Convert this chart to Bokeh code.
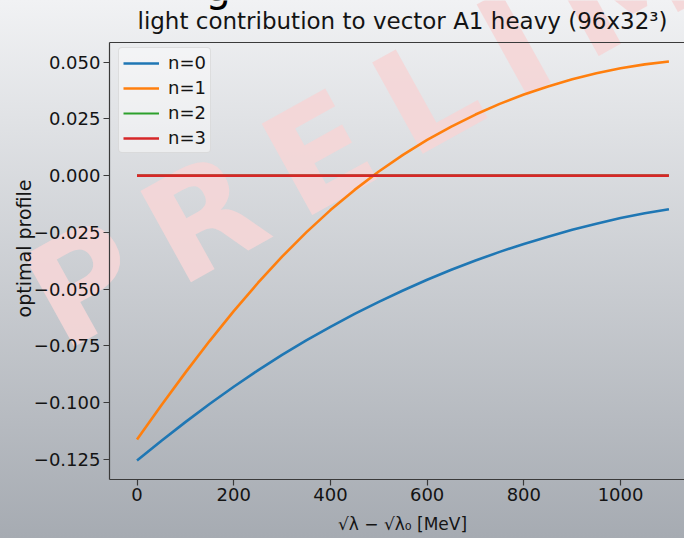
from math import radians

from bokeh.embed import file_html
from bokeh.models import (FixedTicker, Label, Legend, LegendItem, LinearAxis,
                          Range1d)
from bokeh.plotting import figure
from bokeh.resources import INLINE

# --- data -------------------------------------------------------------------
energy_mev = [0, 50, 100, 150, 200, 250, 300, 350, 400, 450, 500, 550,
              600, 650, 700, 750, 800, 850, 900, 950, 1000, 1050, 1100]

profile_n0 = [-0.1255, -0.1169, -0.1086, -0.1006, -0.0930, -0.0858, -0.0790,
              -0.0726, -0.0666, -0.0609, -0.0556, -0.0506, -0.0459, -0.0415,
              -0.0374, -0.0336, -0.0301, -0.0269, -0.0239, -0.0212, -0.0187,
              -0.0166, -0.0148]

profile_n1 = [-0.1163, -0.1013, -0.0868, -0.0729, -0.0597, -0.0473, -0.0357,
              -0.0250, -0.0152, -0.0063, 0.0018, 0.0091, 0.0157, 0.0216,
              0.0269, 0.0316, 0.0357, 0.0393, 0.0424, 0.0451, 0.0473, 0.0490,
              0.0503]

profile_n2 = [0.0, 0.0, 0.0, 0.0, 0.0, 0.0, 0.0, 0.0, 0.0, 0.0, 0.0, 0.0,
              0.0, 0.0, 0.0, 0.0, 0.0, 0.0, 0.0, 0.0, 0.0, 0.0, 0.0]

profile_n3 = [0.0, 0.0, 0.0, 0.0, 0.0, 0.0, 0.0, 0.0, 0.0, 0.0, 0.0, 0.0,
              0.0, 0.0, 0.0, 0.0, 0.0, 0.0, 0.0, 0.0, 0.0, 0.0, 0.0]

series_labels = ["n=0", "n=1", "n=2", "n=3"]
series_colors = ["#1f77b4", "#ff7f0e", "#2ca02c", "#d62728"]
series_widths = [2.6, 2.6, 2.0, 2.6]

x_ticks = [0, 200, 400, 600, 800, 1000]
y_ticks = [-0.125, -0.100, -0.075, -0.050, -0.025, 0.000, 0.025, 0.050]
y_tick_labels = ["\u22120.125", "\u22120.100", "\u22120.075", "\u22120.050",
                 "\u22120.025", "0.000", "0.025", "0.050"]

title_text = "light contribution to vector A1 heavy (96x32\u00b3)"
x_label = "\u221a\u03bb \u2212 \u221a\u03bb\u2080 [MeV]"
y_label = "optimal profile"
watermark = "\u2009".join("PRELIMINARY")

FONT = "DejaVu Sans"
INK = "#141414"
SPINE = "#3a3a3a"

# axes box in data units; the canvas shows a little more on every side
X_LO, X_HI = -57, 1132.2
Y_LO, Y_HI = -0.13375, 0.05875

p = figure(width=684, height=538, output_backend="svg", toolbar_location=None,
           x_range=Range1d(-282.3, 1132.2), y_range=Range1d(-0.15987, 0.07714),
           x_axis_location=None, y_axis_location=None,
           min_border_left=0, min_border_right=0,
           min_border_top=0, min_border_bottom=0)

p.background_fill_color = None
p.border_fill_color = None
p.outline_line_color = None
p.grid.visible = False
p.styles = {"background": "linear-gradient(to bottom, #f1f2f4 0%, #a6abb2 100%)"}


def style_axis(ax):
    ax.axis_line_color = SPINE
    ax.axis_line_width = 1.2
    ax.major_tick_line_color = SPINE
    ax.major_tick_line_width = 1.2
    ax.major_tick_out = 6
    ax.major_tick_in = 0
    ax.minor_tick_out = 0
    ax.minor_tick_in = 0
    ax.major_label_text_font = FONT
    ax.major_label_text_font_size = "18px"
    ax.major_label_text_color = INK
    ax.major_label_standoff = 3


xaxis = LinearAxis(fixed_location=Y_LO, bounds=(X_LO, X_HI),
                   ticker=FixedTicker(ticks=x_ticks))
style_axis(xaxis)
p.add_layout(xaxis, "below")

yaxis = LinearAxis(fixed_location=X_LO, bounds=(Y_LO, Y_HI),
                   ticker=FixedTicker(ticks=y_ticks))
style_axis(yaxis)
yaxis.major_label_overrides = dict(zip(y_ticks, y_tick_labels))
p.add_layout(yaxis, "left")

# top spine
top_spine = LinearAxis(fixed_location=Y_HI, bounds=(X_LO, X_HI),
                       ticker=FixedTicker(ticks=[]))
style_axis(top_spine)
top_spine.major_tick_out = 0
top_spine.major_label_text_font_size = "0px"
p.add_layout(top_spine, "above")

# watermark behind the curves
p.add_layout(Label(x=-203, y=-0.0591, text=watermark, angle=radians(29),
                   text_font=FONT, text_font_style="bold", text_font_size="143px",
                   text_color="#f4d6d7", text_alpha=0.92,
                   text_align="left", text_baseline="alphabetic", level="underlay"))

# remains of the heading above the title
p.add_layout(Label(x=141.6, y=0.08300, text="g", text_font=FONT, text_font_style="normal",
                   text_font_size="40px", text_color="#000000",
                   text_align="left", text_baseline="alphabetic"))

# title
p.add_layout(Label(x=549, y=0.06810, text=title_text, text_font=FONT,
                   text_font_size="23px", text_color=INK,
                   text_align="center", text_baseline="alphabetic"))

# axis labels
p.add_layout(Label(x=549, y=-0.1537, text=x_label, text_font=FONT,
                   text_font_size="17px", text_color=INK,
                   text_align="center", text_baseline="middle"))
p.add_layout(Label(x=-234.7, y=-0.0321, text=y_label, angle=radians(90), text_font=FONT,
                   text_font_size="19px", text_color=INK,
                   text_align="center", text_baseline="middle"))

# curves
series = [profile_n0, profile_n1, profile_n2, profile_n3]
renderers = []
for vals, color, lw in zip(series, series_colors, series_widths):
    renderers.append(p.line(energy_mev, vals, line_color=color, line_width=lw))

legend = Legend(items=[LegendItem(label=lab, renderers=[r])
                       for lab, r in zip(series_labels, renderers)],
                location=(118, 538 - 50 - 103))
legend.label_text_font = FONT
legend.label_text_font_size = "18px"
legend.label_text_color = INK
legend.glyph_width = 36
legend.glyph_height = 20
legend.label_height = 20
legend.spacing = 4
legend.padding = 4
legend.margin = 0
legend.label_standoff = 9
legend.border_line_color = "#c8c8c8"
legend.border_line_width = 1
legend.background_fill_color = "#ffffff"
legend.background_fill_alpha = 0.45
try:
    legend.border_radius = 4
except AttributeError:
    pass
p.add_layout(legend)

open("out.html", "w").write(file_html(p, INLINE))
